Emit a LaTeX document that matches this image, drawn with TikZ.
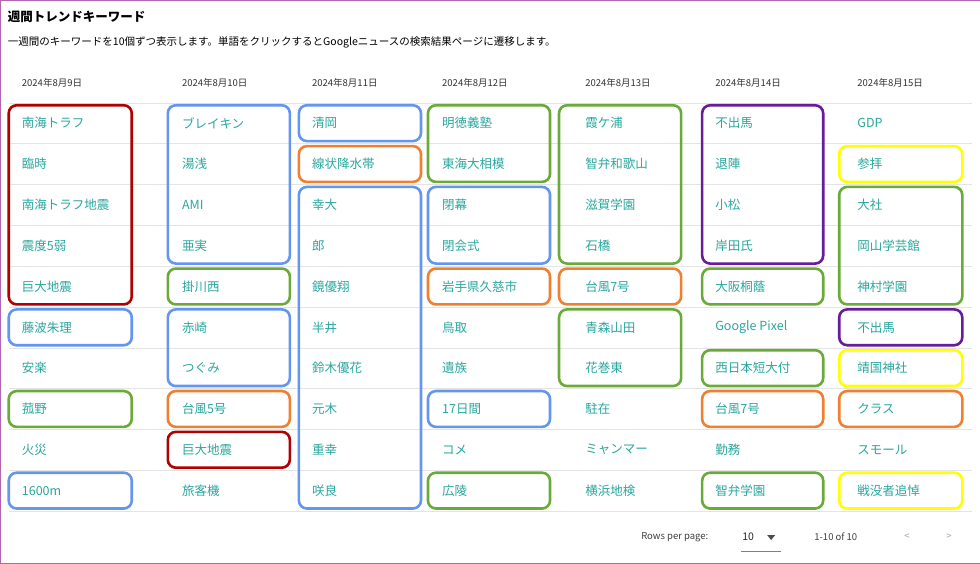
\documentclass[tikz,border=0pt]{standalone}
\usepackage{fontspec}
\setmainfont{Noto Sans CJK JP}
\definecolor{kteal}{HTML}{2AA79E}
\definecolor{kred}{HTML}{B00000}
\definecolor{kblue}{HTML}{6496F0}
\definecolor{kgreen}{HTML}{6AAA3A}
\definecolor{korange}{HTML}{F07F30}
\definecolor{kpurple}{HTML}{6A1B9A}
\definecolor{kyellow}{HTML}{FFFF00}
\definecolor{kline}{HTML}{E4E4E4}
\begin{document}
\begin{tikzpicture}[x=1pt,y=-1pt,
      word/.style={anchor=west,inner sep=0pt,text=kteal,font=\fontsize{12.5}{14}\selectfont},
      datehead/.style={anchor=west,inner sep=0pt,text=black!80,font=\fontsize{9.5}{11}\selectfont},
      foot/.style={anchor=west,inner sep=0pt,text=black!75,font=\fontsize{9.5}{11}\selectfont},
      grp/.style={draw=#1,line width=2.6pt,rounded corners=8pt}]

  \draw[fill=white,draw=violet!60] (0.5,0.5) rectangle (979.5,563.5);
  \node[anchor=west,inner sep=0pt,font=\bfseries\fontsize{12.5}{14}\selectfont] (title) at (8,17) {週間トレンドキーワード};
  \node[anchor=west,inner sep=0pt,font=\fontsize{10.5}{12}\selectfont] (subtitle) at (8,43)
    {一週間のキーワードを10個ずつ表示します。単語をクリックするとGoogleニュースの検索結果ページに遷移します。};

  % row rules
  \foreach \r in {0,...,10}
    \draw[kline] (9,103+40.8*\r) -- (972,103+40.8*\r);

  % date headers
  \foreach \c/\x/\d in {1/22/9,2/182/10,3/312/11,4/442/12,5/585/13,6/715/14,7/857/15}
    \node[datehead] (date\c) at (\x,83) {2024年8月\d 日};

  % group boxes
  \foreach \c/\a/\b/\clr in {1/1/5/kred,1/6/6/kblue,1/8/8/kgreen,1/10/10/kblue,
      2/1/4/kblue,2/5/5/kgreen,2/6/7/kblue,2/8/8/korange,2/9/9/kred,
      3/1/1/kblue,3/2/2/korange,3/3/10/kblue,
      4/1/2/kgreen,4/3/4/kblue,4/5/5/korange,4/8/8/kblue,4/10/10/kgreen,
      5/1/4/kgreen,5/5/5/korange,5/6/7/kgreen,
      6/1/4/kpurple,6/5/5/kgreen,6/7/7/kgreen,6/8/8/korange,6/10/10/kgreen,
      7/2/2/kyellow,7/3/5/kgreen,7/6/6/kpurple,7/7/7/kyellow,7/8/8/korange,7/10/10/kyellow} {
    \pgfmathsetmacro{\bl}{{9,168,299,428,559,702,839}[\c-1]}
    \pgfmathsetmacro{\br}{{132,290,421,550,681,823,962}[\c-1]}
    \draw[grp=\clr] (\bl,103+40.8*\a-40.8+2.5) rectangle (\br,103+40.8*\b-2.5);
  }

  % keywords
  \foreach \r/\w in {1/南海トラフ,2/臨時,3/南海トラフ地震,4/震度5弱,5/巨大地震,6/藤波朱理,7/安楽,8/菰野,9/火災,10/1600m}
    \node[word] (kwa\r) at (22,82.6+40.8*\r) {\w};
  \foreach \r/\w in {1/ブレイキン,2/湯浅,3/AMI,4/亜実,5/掛川西,6/赤崎,7/つぐみ,8/台風5号,9/巨大地震,10/旅客機}
    \node[word] (kwb\r) at (182,82.6+40.8*\r) {\w};
  \foreach \r/\w in {1/清岡,2/線状降水帯,3/幸大,4/郎,5/鏡優翔,6/半井,7/鈴木優花,8/元木,9/重幸,10/咲良}
    \node[word] (kwc\r) at (312,82.6+40.8*\r) {\w};
  \foreach \r/\w in {1/明徳義塾,2/東海大相模,3/閉幕,4/閉会式,5/岩手県久慈市,6/鳥取,7/遺族,8/17日間,9/コメ,10/広陵}
    \node[word] (kwd\r) at (442,82.6+40.8*\r) {\w};
  \foreach \r/\w in {1/霞ケ浦,2/智弁和歌山,3/滋賀学園,4/石橋,5/台風7号,6/青森山田,7/花巻東,8/駐在,9/ミャンマー,10/横浜地検}
    \node[word] (kwe\r) at (585,82.6+40.8*\r) {\w};
  \foreach \r/\w in {1/不出馬,2/退陣,3/小松,4/岸田氏,5/大阪桐蔭,6/Google Pixel,7/西日本短大付,8/台風7号,9/勤務,10/智弁学園}
    \node[word] (kwf\r) at (715,82.6+40.8*\r) {\w};
  \foreach \r/\w in {1/GDP,2/参拝,3/大社,4/岡山学芸館,5/神村学園,6/不出馬,7/靖国神社,8/クラス,9/スモール,10/戦没者追悼}
    \node[word] (kwg\r) at (857,82.6+40.8*\r) {\w};

  % pager
  \node[foot] (rowsper) at (641,537) {Rows per page:};
  \node[foot,text=black!85,font=\fontsize{10.5}{12}\selectfont] (rowsnum) at (742,537) {10};
  \fill[black!70] (767,535) -- (775,535) -- (771,540) -- cycle;
  \draw[black!50] (741,551) -- (781,551);
  \node[foot] (range) at (814,537) {1-10 of 10};
  \node[foot,text=black!35] (prev) at (904,537) {<};
  \node[foot,text=black!35] (next) at (946,537) {>};
\end{tikzpicture}
\end{document}
